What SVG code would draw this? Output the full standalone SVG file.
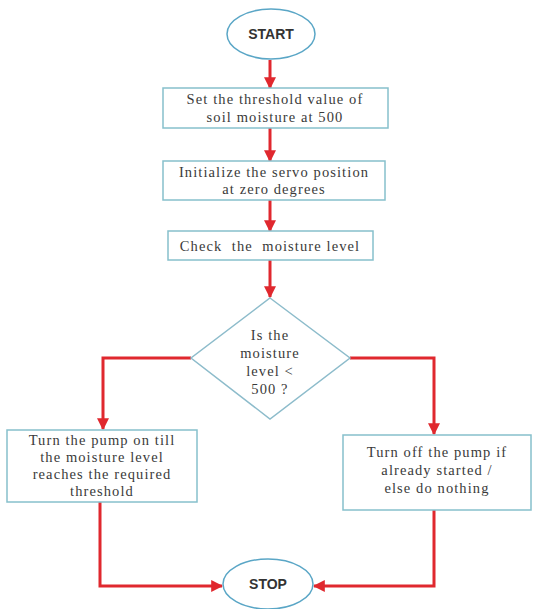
<svg xmlns="http://www.w3.org/2000/svg" width="535" height="609" viewBox="0 0 535 609">
<defs>
<style>
.box{fill:#ffffff;stroke:#86c0cc;stroke-width:1.5}
.term{fill:#ffffff;stroke:#5aa6c6;stroke-width:1.5}
.dia{fill:#ffffff;stroke:#8dbccb;stroke-width:1.5}
.t{font-family:"Liberation Serif","Times New Roman",serif;font-size:14.5px;letter-spacing:1.1px;fill:#3a3a3a;text-anchor:middle}
.tt{font-family:"Liberation Sans",Arial,sans-serif;font-size:14px;font-weight:bold;fill:#333333;text-anchor:middle}
.c{fill:none;stroke:#e0282e;stroke-width:3}
</style>
<marker id="ah" viewBox="0 0 10 10" refX="9" refY="5" markerWidth="4" markerHeight="4" orient="auto" markerUnits="strokeWidth">
<path d="M0,0 L10,5 L0,10 z" fill="#e0282e"/>
</marker>
</defs>
<rect width="535" height="609" fill="#ffffff"/>
<g id="connectors">
<path class="c" d="M270,60 V88" marker-end="url(#ah)"/>
<path class="c" d="M270,128 V161" marker-end="url(#ah)"/>
<path class="c" d="M270,200 V231" marker-end="url(#ah)"/>
<path class="c" d="M270,260 V297" marker-end="url(#ah)"/>
<path class="c" d="M191,358 H103 V429" marker-end="url(#ah)"/>
<path class="c" d="M350,358 H434 V434" marker-end="url(#ah)"/>
<path class="c" d="M100,502 V586 H222" marker-end="url(#ah)"/>
<path class="c" d="M434,510 V586 H314" marker-end="url(#ah)"/>
</g>
<g id="start">
<ellipse class="term" cx="271" cy="34" rx="44" ry="25"/>
<text class="tt" x="271" y="39">START</text>
</g>
<g id="set-threshold">
<rect class="box" x="163" y="88" width="225" height="40"/>
<text class="t" x="275" y="104">Set the threshold value of</text>
<text class="t" x="275" y="122">soil moisture at 500</text>
</g>
<g id="init-servo">
<rect class="box" x="163" y="161" width="222" height="39"/>
<text class="t" x="274" y="177">Initialize the servo position</text>
<text class="t" x="274" y="194">at zero degrees</text>
</g>
<g id="check-moisture">
<rect class="box" x="168" y="231" width="205" height="29"/>
<text class="t" x="270" y="251" style="white-space:pre">Check  the  moisture level</text>
</g>
<g id="decision">
<polygon class="dia" points="270,298 350,358 270,419 191,358"/>
<text class="t" x="270" y="340">Is the</text>
<text class="t" x="270" y="358">moisture</text>
<text class="t" x="270" y="376">level &lt;</text>
<text class="t" x="270" y="394">500 ?</text>
</g>
<g id="pump-on">
<rect class="box" x="7" y="430" width="190" height="72"/>
<text class="t" x="102" y="445">Turn the pump on till</text>
<text class="t" x="102" y="462">the moisture level</text>
<text class="t" x="102" y="479">reaches the required</text>
<text class="t" x="102" y="496">threshold</text>
</g>
<g id="pump-off">
<rect class="box" x="343" y="435" width="188" height="75"/>
<text class="t" x="437" y="457">Turn off the pump if</text>
<text class="t" x="437" y="475">already started /</text>
<text class="t" x="437" y="493">else do nothing</text>
</g>
<g id="stop">
<ellipse class="term" cx="268" cy="584" rx="45" ry="25"/>
<text class="tt" x="268" y="589">STOP</text>
</g>
</svg>
